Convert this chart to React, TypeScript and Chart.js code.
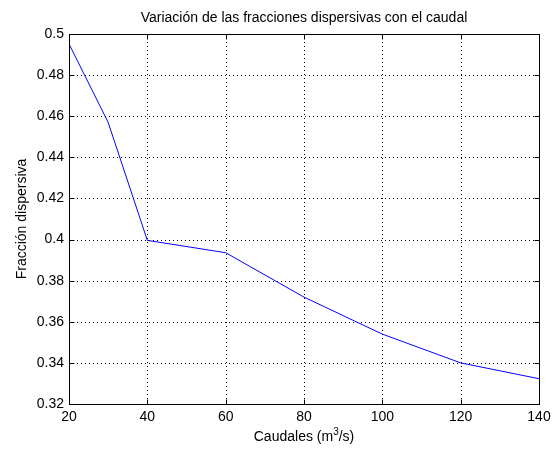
import { useEffect, useRef } from "react";
import { Chart, registerables } from "chart.js";

Chart.register(...registerables);

// Caudal (m³/s) vs. fracción dispersiva
const caudales = [20, 30, 40, 60, 80, 100, 120, 140];
const fraccion = [0.4952, 0.457, 0.3996, 0.3936, 0.372, 0.354, 0.340, 0.3323];

const xTicks = [20, 40, 60, 80, 100, 120, 140];
const yTicks = [0.32, 0.34, 0.36, 0.38, 0.4, 0.42, 0.44, 0.46, 0.48, 0.5];

const titleText = "Variación de las fracciones dispersivas con el caudal";
const yLabelText = "Fracción dispersiva";

const FONT = "'Liberation Sans', Arial, sans-serif";
const FS = 14;

const axesPlugin = {
  id: "matlabAxes",
  beforeDatasetsDraw(chart: any) {
    const { ctx, chartArea: a, scales } = chart;
    ctx.save();
    ctx.strokeStyle = "#000";
    ctx.lineWidth = 1;
    ctx.setLineDash([1, 3]);
    for (const v of xTicks) {
      const x = Math.round(scales.x.getPixelForValue(v)) + 0.5;
      ctx.beginPath();
      ctx.moveTo(x, a.top);
      ctx.lineTo(x, a.bottom);
      ctx.stroke();
    }
    for (const v of yTicks) {
      const y = Math.round(scales.y.getPixelForValue(v)) + 0.5;
      ctx.beginPath();
      ctx.moveTo(a.left, y);
      ctx.lineTo(a.right, y);
      ctx.stroke();
    }
    ctx.restore();
  },
  afterDatasetsDraw(chart: any) {
    const { ctx, chartArea: a, scales } = chart;
    const L = Math.round(a.left) + 0.5;
    const R = Math.round(a.right) + 0.5;
    const T = Math.round(a.top) + 0.5;
    const B = Math.round(a.bottom) + 0.5;
    ctx.save();
    ctx.strokeStyle = "#000";
    ctx.lineWidth = 1;
    ctx.setLineDash([]);
    ctx.strokeRect(L, T, R - L, B - T);
    const tl = 5;
    ctx.beginPath();
    for (const v of xTicks) {
      const x = Math.round(scales.x.getPixelForValue(v)) + 0.5;
      ctx.moveTo(x, B);
      ctx.lineTo(x, B - tl);
      ctx.moveTo(x, T);
      ctx.lineTo(x, T + tl);
    }
    for (const v of yTicks) {
      const y = Math.round(scales.y.getPixelForValue(v)) + 0.5;
      ctx.moveTo(L, y);
      ctx.lineTo(L + tl, y);
      ctx.moveTo(R, y);
      ctx.lineTo(R - tl, y);
    }
    ctx.stroke();

    // title
    ctx.fillStyle = "#000";
    ctx.font = `${FS}px ${FONT}`;
    ctx.textAlign = "center";
    ctx.textBaseline = "middle";
    const cx = (a.left + a.right) / 2;
    ctx.fillText(titleText, cx, 18);

    // y axis label
    ctx.save();
    ctx.translate(22, (a.top + a.bottom) / 2);
    ctx.rotate(-Math.PI / 2);
    ctx.fillText(yLabelText, 0, 0);
    ctx.restore();

    // x axis label with superscript
    const p1 = "Caudales (m";
    const sup = "3";
    const p2 = "/s)";
    ctx.font = `${FS}px ${FONT}`;
    const w1 = ctx.measureText(p1).width;
    const w3 = ctx.measureText(p2).width;
    ctx.font = `10px ${FONT}`;
    const w2 = ctx.measureText(sup).width;
    const total = w1 + w2 + w3;
    const x0 = cx - total / 2;
    const yb = 437;
    ctx.textAlign = "left";
    ctx.font = `${FS}px ${FONT}`;
    ctx.fillText(p1, x0, yb);
    ctx.font = `10px ${FONT}`;
    ctx.fillText(sup, x0 + w1, yb - 5);
    ctx.font = `${FS}px ${FONT}`;
    ctx.fillText(p2, x0 + w1 + w2, yb);
    ctx.restore();
  },
};

export default function App() {
  const ref = useRef<HTMLCanvasElement>(null);

  useEffect(() => {
    document.body.style.margin = "0";
    const chart = new Chart(ref.current!, {
      type: "line",
      data: {
        datasets: [
          {
            data: caudales.map((x, i) => ({ x, y: fraccion[i] })),
            borderColor: "#0000ff",
            borderWidth: 1,
            pointRadius: 0,
            fill: false,
            tension: 0,
          },
        ],
      },
      options: {
        responsive: false,
        animation: false,
        events: [],
        layout: { padding: { top: 34, right: 18, left: 0, bottom: 0 } },
        plugins: {
          legend: { display: false },
          tooltip: { enabled: false },
          title: { display: false },
        },
        scales: {
          x: {
            type: "linear",
            min: 20,
            max: 140,
            afterFit: (s: any) => {
              s.height = 45;
            },
            afterBuildTicks: (s: any) => {
              s.ticks = xTicks.map((v) => ({ value: v }));
            },
            grid: { display: false, drawTicks: false },
            border: { display: false },
            ticks: {
              padding: 5,
              color: "#000",
              font: { family: FONT, size: FS },
              maxRotation: 0,
              callback: (v: any) => String(v),
            },
          },
          y: {
            type: "linear",
            min: 0.32,
            max: 0.5,
            afterFit: (s: any) => {
              s.width = 69;
            },
            afterBuildTicks: (s: any) => {
              s.ticks = yTicks.map((v) => ({ value: v }));
            },
            grid: { display: false, drawTicks: false },
            border: { display: false },
            ticks: {
              padding: 5,
              color: "#000",
              font: { family: FONT, size: FS },
              callback: (v: any) => String(Number(Number(v).toFixed(2))),
            },
          },
        },
      },
      plugins: [axesPlugin],
    });
    return () => chart.destroy();
  }, []);

  return (
    <div style={{ width: 557, height: 449, background: "#fff" }}>
      <canvas ref={ref} width={557} height={449} style={{ display: "block", width: 557, height: 449 }} />
    </div>
  );
}
